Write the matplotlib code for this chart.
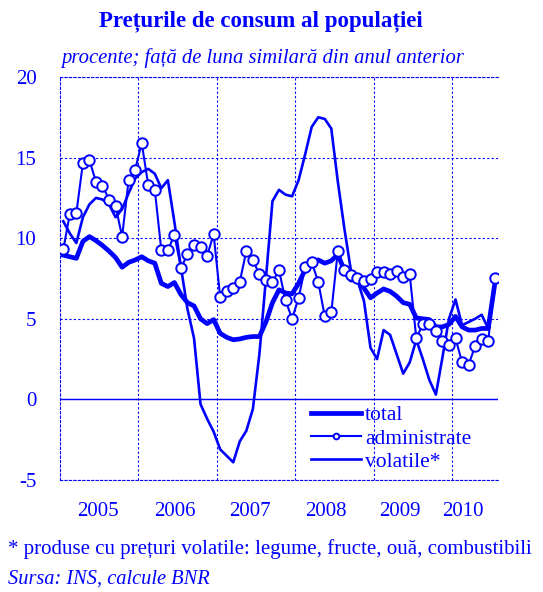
import numpy as np
import matplotlib
matplotlib.use('Agg')
import matplotlib.pyplot as plt

# Data: monthly, Jan 2005 - Jul 2010 (annual % change)
total = [8.95, 8.85, 8.75, 9.8, 10.1, 9.85, 9.55, 9.2, 8.8, 8.2, 8.5, 8.65,
         8.85, 8.6, 8.45, 7.2, 7.0, 7.25, 6.5, 6.0, 5.8, 5.0, 4.7, 4.95,
         4.1, 3.85, 3.7, 3.75, 3.85, 3.9, 3.9, 4.8, 6.0, 6.8, 6.6, 6.55,
         7.2, 8.05, 8.55, 8.65, 8.45, 8.6, 9.0, 8.0, 7.4, 7.45, 6.9, 6.3,
         6.6, 6.85, 6.7, 6.4, 6.0, 5.9, 5.05, 5.0, 4.95, 4.5, 4.5, 4.65,
         5.15, 4.5, 4.3, 4.3, 4.4, 4.4, 7.15]
administrate = [9.3, 11.5, 11.55, 14.65, 14.85, 13.5, 13.25, 12.4, 12.0, 10.1, 13.6, 14.25,
                15.9, 13.3, 13.0, 9.25, 9.25, 10.2, 8.15, 9.0, 9.55, 9.45, 8.9, 10.25,
                6.35, 6.7, 6.9, 7.3, 9.2, 8.65, 7.75, 7.4, 7.3, 8.0, 6.15, 5.0,
                6.3, 8.2, 8.5, 7.3, 5.15, 5.4, 9.2, 8.0, 7.7, 7.55, 7.35, 7.45,
                7.9, 7.9, 7.8, 7.95, 7.6, 7.75, 3.8, 4.65, 4.65, 4.25, 3.6, 3.4,
                3.8, 2.3, 2.15, 3.3, 3.75, 3.6, 7.55]
volatile = [11.05, 10.3, 9.7, 11.3, 12.1, 12.5, 12.4, 12.1, 11.3, 11.8, 12.8, 13.7,
            14.1, 14.3, 14.0, 13.1, 13.6, 11.0, 8.2, 5.6, 3.8, -0.3, -1.2, -2.0,
            -3.1, -3.5, -3.9, -2.6, -1.95, -0.6, 2.8, 7.5, 12.3, 13.0, 12.7, 12.6,
            13.6, 15.2, 16.9, 17.5, 17.4, 16.8, 13.5, 10.6, 8.0, 7.4, 6.1, 3.2,
            2.5, 4.3, 4.0, 2.8, 1.6, 2.3, 3.7, 2.5, 1.2, 0.3, 2.6, 5.0,
            6.2, 4.6, 4.8, 5.0, 5.25, 4.4, 6.9]
years = ['2005', '2006', '2007', '2008', '2009', '2010']
year_label_pos = [5.8, 17.6, 29.0, 40.6, 52.0, 61.7]

BLUE = '#0000ff'
plt.rcParams['font.family'] = ['Liberation Serif', 'DejaVu Serif']
plt.rcParams['axes.unicode_minus'] = False

x = np.arange(len(total)) + 0.5

fig = plt.figure(figsize=(5.43, 5.92), dpi=100)
ax = fig.add_axes([60/543, 1 - 480/592, 438/543, 403/592])

ax.plot(x, total, color=BLUE, lw=3.4, label='total', zorder=4)
ax.plot(x, administrate, color=BLUE, lw=1.5, marker='o', ms=7.5,
        mfc='white', mec=BLUE, mew=1.4, label='administrate', zorder=5)
ax.plot(x, volatile, color=BLUE, lw=1.9, label='volatile*', zorder=3)

ax.axhline(0, color=BLUE, lw=1.0, zorder=2)

ax.set_xlim(0, 67)
ax.set_ylim(-5, 20)
ax.set_yticks([-5, 0, 5, 10, 15, 20])
ax.set_xticks([12, 24, 36, 48, 60])
ax.set_xticklabels([])
ax.set_xticks(year_label_pos, minor=True)
ax.set_xticklabels(years, minor=True)
ax.tick_params(axis='both', which='both', length=0, colors=BLUE, labelsize=15)
ax.tick_params(axis='y', pad=17)
ax.tick_params(axis='x', which='minor', pad=16)

ax.grid(True, which='major', color=BLUE, ls=(0, (2, 2)), lw=0.8)

for side in ['left', 'bottom', 'top']:
    ax.spines[side].set_color(BLUE)
    ax.spines[side].set_linestyle((0, (2, 2)))
    ax.spines[side].set_linewidth(0.8)
ax.spines['right'].set_visible(False)

leg = ax.legend(loc='lower left', bbox_to_anchor=(0.544, -0.012), frameon=False,
                fontsize=15.5, handlelength=2.3, handletextpad=0.2,
                labelspacing=0.15, borderaxespad=0.2, markerscale=0.55)
for t in leg.get_texts():
    t.set_color(BLUE)

fig.text(0.48, 1 - 21/592, 'Prețurile de consum al populației', color=BLUE,
         fontsize=16.5, fontweight='bold', ha='center', va='center')
fig.text(0.483, 1 - 58/592, 'procente; față de luna similară din anul anterior',
         color=BLUE, fontsize=14.9, style='italic', ha='center', va='center')
fig.text(8/543, 1 - 549/592,
         '* produse cu prețuri volatile: legume, fructe, ouă, combustibili',
         color=BLUE, fontsize=15, ha='left', va='center')
fig.text(8/543, 1 - 579/592, 'Sursa: INS, calcule BNR', color=BLUE,
         fontsize=14.7, style='italic', ha='left', va='center')

fig.savefig('out.png', dpi=100)
